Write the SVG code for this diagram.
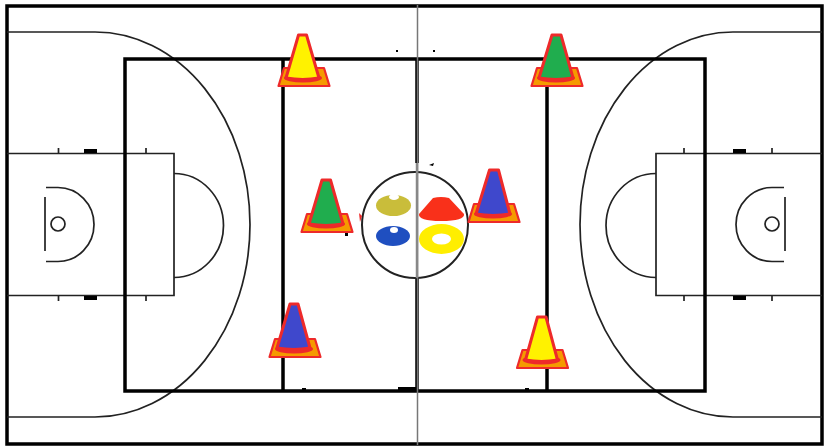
<svg xmlns="http://www.w3.org/2000/svg" width="827" height="448" viewBox="0 0 827 448">
  <style>
    .court { fill: none; stroke: #000; stroke-width: 3.5; }
    .thin { fill: none; stroke: #222; stroke-width: 1.700; }
    .tray { fill: #f59a00; stroke: #ee2a2a; stroke-width: 2.200; stroke-linejoin: round; }
    .skirt { fill: #ee2a2a; }
    .body { stroke: #ee2a2a; stroke-width: 3; stroke-linejoin: round; }
    .y { fill: #fff200; } .g { fill: #20ad4e; } .b { fill: #3f48cc; }
  </style>
  <defs>
    <g id="tray">
      <path class="tray" d="M-25.500,-1 L-20,-19 L20,-19 L25.500,-1 Z"/>
      <ellipse class="skirt" cx="-1" cy="-9" rx="19" ry="4.500"/>
    </g>
  </defs>
  <rect width="827" height="448" fill="#fff"/>
  <g id="court">
    <rect class="court" x="7" y="6" width="815" height="438"/>
    <path class="thin" d="M7,32 H95 A155,192.500 0 0 1 95,417 H7"/>
    <path class="thin" d="M822,32 H733 A153,192.500 0 0 0 733,417 H822"/>
    <path class="thin" d="M7,153.500 H174 V295.500 H7"/>
    <path class="thin" d="M822,153.500 H656 V295.500 H822"/>
    <path class="thin" d="M174,173.500 A49.500,52 0 0 1 174,277.500"/>
    <path class="thin" d="M656,173.500 A50,52 0 0 0 656,277.500"/>
    <path class="thin" d="M46,187.500 H58 A36,37 0 0 1 58,261.500 H46"/>
    <path class="thin" d="M784,187.500 H772 A36,37 0 0 0 772,261.500 H784"/>
    <path class="thin" d="M45,197 V251 M785,197 V251"/>
    <circle class="thin" cx="58" cy="224" r="7"/>
    <circle class="thin" cx="772" cy="224" r="7"/>
    <path class="thin" d="M58.500,148 V153 M146,148 V153 M58.500,296 V301 M146,296 V301 M684,148 V153 M772,148 V153 M684,296 V301 M772,296 V301"/>
    <path fill="#000" d="M84,149 H97 V153 H84 Z M84,296 H97 V300 H84 Z M733,149 H746 V153 H733 Z M733,296 H746 V300 H733 Z"/>
    <rect class="court" x="125" y="59" width="580" height="332"/>
    <path class="court" d="M283,59 V391 M547,59 V391 M417,59 V163 M417,278 V391"/>
    <path fill="#000" d="M398,387 H417 V391 H398 Z M302,388 H306 V391 H302 Z M525,388 H529 V391 H525 Z M396,50 H398 V52 H396 Z M433,50 H435 V52 H433 Z M429,165 L434,163 L433,166 Z M345,233 H348 V236 H345 Z"/>
    <circle cx="415" cy="225" r="53" fill="none" stroke="#222" stroke-width="2"/>
    <path d="M417.500,5 V445" stroke="#777" stroke-width="1.500" fill="none"/>
    <path d="M417,163 V278" stroke="#888" stroke-width="2.500" fill="none"/>
    <path d="M359,213 L362,216 L360,222 Z" fill="#ee2a2a"/>
  </g>
  <g id="disc-olive">
    <ellipse cx="393.500" cy="205.500" rx="17.500" ry="10.500" fill="#c9bd3a"/>
    <ellipse cx="394" cy="197" rx="5" ry="3" fill="#fff"/>
  </g>
  <g id="disc-blue">
    <ellipse cx="393" cy="236" rx="17" ry="10" fill="#1f4fc0"/>
    <ellipse cx="394" cy="230" rx="4" ry="3" fill="#fff"/>
  </g>
  <g id="disc-red">
    <path d="M433,198 Q441,196 449,198 L464,214 Q465,221 441,221 Q418,221 419,214 Z" fill="#f9301a"/>
  </g>
  <g id="disc-yellow">
    <path fill-rule="evenodd" d="M419,239 A22.500,15 0 1 1 464,239 A22.500,15 0 1 1 419,239 Z M432,239 A9.500,5.500 0 1 0 451,239 A9.500,5.500 0 1 0 432,239 Z" fill="#ffee00"/>
  </g>
  <g id="cone-1" transform="translate(304,87)">
    <use href="#tray"/>
    <path class="body y" d="M-5.500,-52 H2.500 L15,-9 Q-1,-6 -18,-9 Z"/>
  </g>
  <g id="cone-2" transform="translate(557,87)">
    <use href="#tray"/>
    <path class="body g" d="M-5,-52 H4 L16,-9 Q-1,-6 -18,-9 Z"/>
  </g>
  <g id="cone-3" transform="translate(327,233)">
    <use href="#tray"/>
    <path class="body g" d="M-5,-53 H3.500 L16,-9 Q-1,-6 -18,-9 Z"/>
  </g>
  <g id="cone-4" transform="translate(494,223)">
    <use href="#tray"/>
    <path class="body b" d="M-4.500,-53 H4.500 L16,-9 Q-1,-6 -18,-9 Z"/>
  </g>
  <g id="cone-5" transform="translate(295,358)">
    <use href="#tray"/>
    <path class="body b" d="M-5,-54 H3 L15,-10 Q-1,-7 -18,-10 Z"/>
  </g>
  <g id="cone-6" transform="translate(542.500,369)">
    <use href="#tray"/>
    <path class="body y" d="M-5,-52 H3.500 L15,-9 Q-1,-6 -17,-9 Z"/>
  </g>
</svg>
